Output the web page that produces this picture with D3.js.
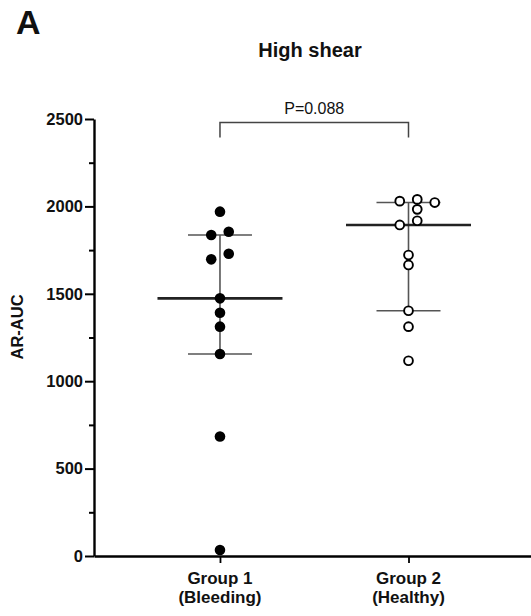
<!DOCTYPE html>
<html>
<head>
  <meta charset="utf-8">
  <title>High shear AR-AUC</title>
  <script src="https://d3js.org/d3.v7.min.js"></script>
  <style>
    body { margin: 0; background: #fff; }
    text { font-family: "Liberation Sans", Arial, sans-serif; fill: #111; }
  </style>
</head>
<body>

  <svg width="531" height="616"></svg>

  <script>
    // Data
    const groups = ["Group 1", "Group 2"];
    const groupNotes = ["(Bleeding)", "(Healthy)"];
    const bleeding = [1970, 1855, 1836, 1729, 1697, 1474, 1392, 1312, 1156, 684, 34];
    const healthy = [2040, 2030, 2022, 1983, 1918, 1894, 1722, 1665, 1403, 1312, 1117];
    const yTicks = [0, 500, 1000, 1500, 2000, 2500];
    const yMinorTicks = [250, 750, 1250, 1750, 2250];
    const panelLabel = "A";
    const title = "High shear";
    const pLabel = "P=0.088";
    const yLabel = "AR-AUC";

    const svg = d3.select("svg");

    const margin = { top: 119, right: 0, bottom: 60, left: 94 };
    const width = 531, height = 616;

    // scales
    const x = d3.scalePoint()
      .domain(groups)
      .range([margin.left, width - margin.right])
      .padding(0.659)
      .align(0.507);

    const y = d3.scaleLinear()
      .domain([0, 2500])
      .range([height - margin.bottom, margin.top]);

    // quartiles the GraphPad way: (n+1)p rank
    function quart(sorted, p) {
      const h = (sorted.length + 1) * p - 1;
      const lo = Math.floor(h), hi = Math.ceil(h);
      return sorted[lo] + (sorted[hi] - sorted[lo]) * (h - lo);
    }

    // spread points that sit on top of each other
    const r = 5.3, slot = 17.5;
    function dodge(values) {
      const pts = values.map(v => ({ v, py: y(v), dx: 0 }))
        .sort((a, b) => a.py - b.py);
      const clusters = [];
      pts.forEach((p, i) => {
        if (i > 0 && p.py - pts[i - 1].py < 9) clusters[clusters.length - 1].push(p);
        else clusters.push([p]);
      });
      clusters.forEach(c => {
        if (c.length < 2) return;
        const cands = c.length % 2 === 0
          ? [0.5, -0.5, 1.5, -1.5, 2.5, -2.5]
          : [0, 1, -1, 2, -2];
        const placed = [];
        c.forEach(p => {
          for (const k of cands) {
            const dx = k * slot;
            const ok = placed.every(q => Math.hypot(q.dx - dx, q.py - p.py) >= 9.5);
            if (ok) { p.dx = dx; break; }
          }
          placed.push(p);
        });
      });
      return pts;
    }

    const series = [
      { name: groups[0], values: bleeding, filled: true },
      { name: groups[1], values: healthy, filled: false }
    ];

    // median + IQR
    series.forEach(s => {
      const sorted = s.values.slice().sort(d3.ascending);
      const q1 = quart(sorted, 0.25), med = quart(sorted, 0.5), q3 = quart(sorted, 0.75);
      const cx = x(s.name);
      const g = svg.append("g");
      g.append("line")
        .attr("x1", cx).attr("x2", cx)
        .attr("y1", y(q1)).attr("y2", y(q3))
        .attr("stroke", "#555").attr("stroke-width", 1.6);
      [q1, q3].forEach(q => {
        g.append("line")
          .attr("x1", cx - 32).attr("x2", cx + 32)
          .attr("y1", y(q)).attr("y2", y(q))
          .attr("stroke", "#555").attr("stroke-width", 1.6);
      });
      g.append("line")
        .attr("x1", cx - 62.5).attr("x2", cx + 62.5)
        .attr("y1", y(med)).attr("y2", y(med))
        .attr("stroke", "#222").attr("stroke-width", 2.6);
    });

    // points
    series.forEach(s => {
      svg.append("g")
        .selectAll("circle")
        .data(dodge(s.values))
        .join("circle")
        .attr("cx", d => x(s.name) + d.dx)
        .attr("cy", d => d.py)
        .attr("r", s.filled ? r : r - 0.9)
        .attr("fill", s.filled ? "#000" : "#fff")
        .attr("stroke", "#000")
        .attr("stroke-width", s.filled ? 0 : 1.9);
    });

    // y axis
    const yAxis = svg.append("g")
      .attr("transform", `translate(${margin.left},0)`)
      .call(d3.axisLeft(y).tickValues(yTicks).tickFormat(d3.format("d"))
        .tickSize(9).tickSizeOuter(0).tickPadding(2));
    yAxis.select(".domain").attr("stroke-width", 2.4);
    yAxis.selectAll(".tick line").attr("stroke-width", 2);
    yAxis.selectAll(".tick text")
      .attr("font-size", 16.5).attr("font-weight", "bold")
      .attr("font-family", "'Liberation Sans', Arial, sans-serif")
      .attr("fill", "#111");

    svg.append("g")
      .attr("transform", `translate(${margin.left},0)`)
      .call(d3.axisLeft(y).tickValues(yMinorTicks).tickSize(5).tickFormat(""))
      .call(g => g.select(".domain").remove())
      .selectAll(".tick line").attr("stroke-width", 2);

    // x axis
    const xAxis = svg.append("g")
      .attr("transform", `translate(0,${y(0)})`)
      .call(d3.axisBottom(x).tickSize(7).tickSizeOuter(0).tickFormat(""));
    xAxis.select(".domain").attr("stroke-width", 2.4);
    xAxis.selectAll(".tick line").attr("stroke-width", 1.8);

    const xLab = svg.append("g")
      .selectAll("text")
      .data(groups)
      .join("text")
      .attr("x", d => x(d))
      .attr("y", y(0) + 28)
      .attr("text-anchor", "middle")
      .attr("font-size", 17)
      .attr("font-weight", "bold");
    xLab.append("tspan").text(d => d);
    xLab.append("tspan")
      .attr("x", d => x(d))
      .attr("dy", 19)
      .text((d, i) => groupNotes[i]);

    // y label
    svg.append("text")
      .attr("transform", `translate(23,327) rotate(-90)`)
      .attr("text-anchor", "middle")
      .attr("font-size", 16.5)
      .attr("font-weight", "bold")
      .text(yLabel);

    // titles
    svg.append("text")
      .attr("x", 16).attr("y", 34)
      .attr("font-size", 34).attr("font-weight", "bold")
      .text(panelLabel);

    svg.append("text")
      .attr("x", 310).attr("y", 57)
      .attr("text-anchor", "middle")
      .attr("font-size", 20).attr("font-weight", "bold")
      .text(title);

    // significance bracket
    const bx1 = x(groups[0]), bx2 = x(groups[1]), by = 122.5;
    svg.append("path")
      .attr("d", `M${bx1},${by + 15}V${by}H${bx2}V${by + 15}`)
      .attr("fill", "none")
      .attr("stroke", "#444")
      .attr("stroke-width", 1.5);
    svg.append("text")
      .attr("x", (bx1 + bx2) / 2).attr("y", by - 8.5)
      .attr("text-anchor", "middle")
      .attr("font-size", 16)
      .text(pLabel);
  </script>

</body>
</html>
